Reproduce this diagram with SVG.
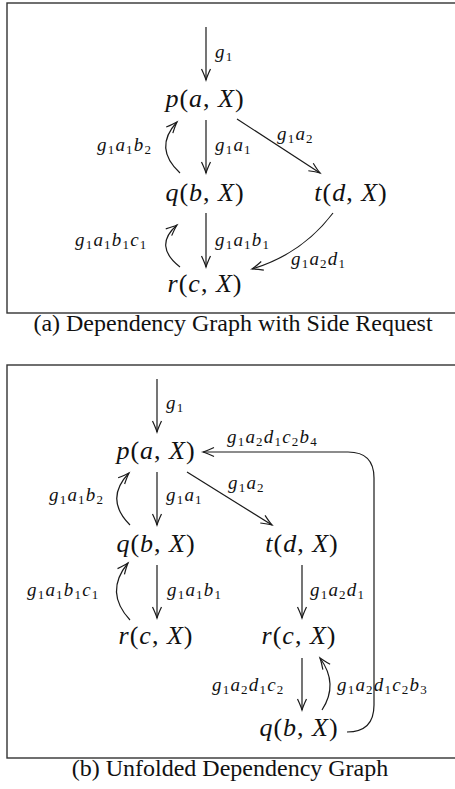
<svg xmlns="http://www.w3.org/2000/svg" width="455" height="789" viewBox="0 0 455 789">
<style>
.frame{fill:none;stroke:#333;stroke-width:1.4}
.e{fill:none;stroke:#1a1a1a;stroke-width:1.2;marker-end:url(#ah)}
.n{font-family:"Liberation Serif","Times New Roman",serif;font-size:26px;fill:#111;text-anchor:middle;letter-spacing:1px}
.i{font-style:italic}
.l{font-family:"Liberation Serif","Times New Roman",serif;font-size:19px;font-style:italic;fill:#111;letter-spacing:1.2px}
.s{font-style:normal;font-size:13px}
.cap{font-family:"Liberation Serif","Times New Roman",serif;font-size:24px;fill:#111;text-anchor:middle}
</style>
<defs>
<marker id="ah" markerUnits="userSpaceOnUse" viewBox="-13 -7 15 14" refX="0" refY="0" markerWidth="15" markerHeight="14" orient="auto" overflow="visible">
<path d="M-11,-4.5 Q-4,-1.2 0,0 Q-4,1.2 -11,4.5" fill="none" stroke="#1a1a1a" stroke-width="1.2"/>
</marker>
</defs>

<g id="panel-a">
<rect class="frame" x="7" y="3" width="460" height="310"/>
<text class="cap" x="233" y="331">(a) Dependency Graph with Side Request</text>
</g>
<g id="panel-b">
<rect class="frame" x="7" y="365" width="460" height="393"/>
<text class="cap" x="230" y="776">(b) Unfolded Dependency Graph</text>
</g>

<g id="connectors">
<!-- panel a -->
<path class="e" d="M206,27 L206,80"/>
<text class="l" x="215" y="58">g<tspan class="s" dy="3">1</tspan></text>
<path class="e" d="M206,120 L206,173"/>
<text class="l" x="215" y="151">g<tspan class="s" dy="3">1</tspan><tspan dy="-3">a</tspan><tspan class="s" dy="3">1</tspan></text>
<path class="e" d="M180,173 Q153,148 177,122"/>
<text class="l" x="97" y="151">g<tspan class="s" dy="3">1</tspan><tspan dy="-3">a</tspan><tspan class="s" dy="3">1</tspan><tspan dy="-3">b</tspan><tspan class="s" dy="3">2</tspan></text>
<path class="e" d="M237,119 L320,173"/>
<text class="l" x="277" y="140">g<tspan class="s" dy="3">1</tspan><tspan dy="-3">a</tspan><tspan class="s" dy="3">2</tspan></text>
<path class="e" d="M206,213 L206,267"/>
<text class="l" x="215" y="246">g<tspan class="s" dy="3">1</tspan><tspan dy="-3">a</tspan><tspan class="s" dy="3">1</tspan><tspan dy="-3">b</tspan><tspan class="s" dy="3">1</tspan></text>
<path class="e" d="M180,267 Q153,246 177,225"/>
<text class="l" x="75" y="246">g<tspan class="s" dy="3">1</tspan><tspan dy="-3">a</tspan><tspan class="s" dy="3">1</tspan><tspan dy="-3">b</tspan><tspan class="s" dy="3">1</tspan><tspan dy="-3">c</tspan><tspan class="s" dy="3">1</tspan></text>
<path class="e" d="M333,213 Q302,254 252,269"/>
<text class="l" x="291" y="265">g<tspan class="s" dy="3">1</tspan><tspan dy="-3">a</tspan><tspan class="s" dy="3">2</tspan><tspan dy="-3">d</tspan><tspan class="s" dy="3">1</tspan></text>

<!-- panel b -->
<path class="e" d="M157,379 L157,432"/>
<text class="l" x="166" y="409">g<tspan class="s" dy="3">1</tspan></text>
<path class="e" d="M347,732 Q374,732 374,705 L374,478 Q374,452 348,452 L203,452"/>
<text class="l" x="227" y="443">g<tspan class="s" dy="3">1</tspan><tspan dy="-3">a</tspan><tspan class="s" dy="3">2</tspan><tspan dy="-3">d</tspan><tspan class="s" dy="3">1</tspan><tspan dy="-3">c</tspan><tspan class="s" dy="3">2</tspan><tspan dy="-3">b</tspan><tspan class="s" dy="3">4</tspan></text>
<path class="e" d="M157,472 L157,525"/>
<text class="l" x="166" y="501">g<tspan class="s" dy="3">1</tspan><tspan dy="-3">a</tspan><tspan class="s" dy="3">1</tspan></text>
<path class="e" d="M130,525 Q104,499 129,473"/>
<text class="l" x="49" y="501">g<tspan class="s" dy="3">1</tspan><tspan dy="-3">a</tspan><tspan class="s" dy="3">1</tspan><tspan dy="-3">b</tspan><tspan class="s" dy="3">2</tspan></text>
<path class="e" d="M187,472 L272,525"/>
<text class="l" x="228" y="489">g<tspan class="s" dy="3">1</tspan><tspan dy="-3">a</tspan><tspan class="s" dy="3">2</tspan></text>
<path class="e" d="M157,565 L157,618"/>
<text class="l" x="167" y="596">g<tspan class="s" dy="3">1</tspan><tspan dy="-3">a</tspan><tspan class="s" dy="3">1</tspan><tspan dy="-3">b</tspan><tspan class="s" dy="3">1</tspan></text>
<path class="e" d="M130,620 Q104,592 128,563"/>
<text class="l" x="27" y="596">g<tspan class="s" dy="3">1</tspan><tspan dy="-3">a</tspan><tspan class="s" dy="3">1</tspan><tspan dy="-3">b</tspan><tspan class="s" dy="3">1</tspan><tspan dy="-3">c</tspan><tspan class="s" dy="3">1</tspan></text>
<path class="e" d="M302,565 L302,618"/>
<text class="l" x="310" y="596">g<tspan class="s" dy="3">1</tspan><tspan dy="-3">a</tspan><tspan class="s" dy="3">2</tspan><tspan dy="-3">d</tspan><tspan class="s" dy="3">1</tspan></text>
<path class="e" d="M302,658 L302,710"/>
<text class="l" x="212" y="691">g<tspan class="s" dy="3">1</tspan><tspan dy="-3">a</tspan><tspan class="s" dy="3">2</tspan><tspan dy="-3">d</tspan><tspan class="s" dy="3">1</tspan><tspan dy="-3">c</tspan><tspan class="s" dy="3">2</tspan></text>
<path class="e" d="M322,710 Q339,684 320,658"/>
<text class="l" x="337" y="691">g<tspan class="s" dy="3">1</tspan><tspan dy="-3">a</tspan><tspan class="s" dy="3">2</tspan><tspan dy="-3">d</tspan><tspan class="s" dy="3">1</tspan><tspan dy="-3">c</tspan><tspan class="s" dy="3">2</tspan><tspan dy="-3">b</tspan><tspan class="s" dy="3">3</tspan></text>
</g>

<g id="a-p"><text class="n" x="205" y="107"><tspan class="i">p</tspan>(<tspan class="i">a</tspan>, <tspan class="i">X</tspan>)</text></g>
<g id="a-q"><text class="n" x="205" y="201"><tspan class="i">q</tspan>(<tspan class="i">b</tspan>, <tspan class="i">X</tspan>)</text></g>
<g id="a-t"><text class="n" x="351" y="201"><tspan class="i">t</tspan>(<tspan class="i">d</tspan>, <tspan class="i">X</tspan>)</text></g>
<g id="a-r"><text class="n" x="205" y="292"><tspan class="i">r</tspan>(<tspan class="i">c</tspan>, <tspan class="i">X</tspan>)</text></g>

<g id="b-p"><text class="n" x="156" y="459"><tspan class="i">p</tspan>(<tspan class="i">a</tspan>, <tspan class="i">X</tspan>)</text></g>
<g id="b-q"><text class="n" x="156" y="552"><tspan class="i">q</tspan>(<tspan class="i">b</tspan>, <tspan class="i">X</tspan>)</text></g>
<g id="b-t"><text class="n" x="302" y="552"><tspan class="i">t</tspan>(<tspan class="i">d</tspan>, <tspan class="i">X</tspan>)</text></g>
<g id="b-r1"><text class="n" x="156" y="644"><tspan class="i">r</tspan>(<tspan class="i">c</tspan>, <tspan class="i">X</tspan>)</text></g>
<g id="b-r2"><text class="n" x="299" y="644"><tspan class="i">r</tspan>(<tspan class="i">c</tspan>, <tspan class="i">X</tspan>)</text></g>
<g id="b-q2"><text class="n" x="299" y="736"><tspan class="i">q</tspan>(<tspan class="i">b</tspan>, <tspan class="i">X</tspan>)</text></g>
</svg>
